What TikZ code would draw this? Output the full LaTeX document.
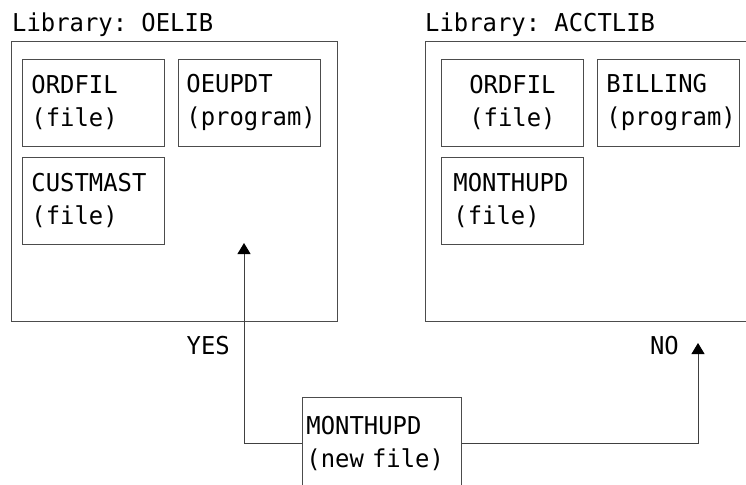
\documentclass[tikz,border=0pt]{standalone}
\usepackage{fontspec}
\setmonofont[FakeStretch=0.97]{DejaVu Sans Mono}
\usetikzlibrary{arrows.meta}

\begin{document}
\begin{tikzpicture}[x=1pt, y=-1pt, font=\fontsize{24.6pt}{33pt}\selectfont\ttfamily, lib/.style={rectangle, draw=black!70, line width=0.9pt, anchor=north west, minimum width=#1, minimum height=280pt}, obj/.style={rectangle, draw=black!70, line width=0.9pt, anchor=north west, align=left, inner xsep=9pt, text width=124pt, minimum height=87pt}, ttl/.style={anchor=base west, inner sep=0pt}, ans/.style={anchor=base east, inner sep=0pt}, edge/.style={draw=black!75, line width=0.9pt, -{Triangle[length=11pt, width=13pt, black]}}]
	\clip (0,0) rectangle (746,484);
	% libraries
	\node[lib=326pt] (oelib) at (11,41) {}; %
	\node[lib=340pt] (acctlib) at (425,41) {}; %
	\node[ttl] (ttlOE) at (12,32) {Library: OELIB}; %
	\node[ttl] (ttlAC) at (425,32) {Library: ACCTLIB}; %

	% nodes
	\node[obj] (ordOE) at (22,59) {ORDFIL\\(file)}; %
	\node[obj, inner xsep=8pt, text width=126pt] (updOE) at (178,59) {OEUPDT\\(program)}; %
	\node[obj] (custOE) at (22,157) {CUSTMAST\\(file)}; %
	\node[obj, align=center] (ordAC) at (441,59) {ORDFIL\\(file)}; %
	\node[obj] (billAC) at (597,59) {BILLING\\(program)}; %
	\node[obj, inner xsep=12pt, text width=118pt] (monAC) at (441,157) {MONTHUPD\\(file)}; %
	\node[obj, inner xsep=4pt, text width=151pt, minimum height=92pt] (newfile) at (302,397) {MONTHUPD\\(new file)}; %

	% answers
	\coordinate (tipOE) at (244,243); %
	\coordinate (tipAC) at (698,343); %
	\node[ans] (yes) at (230,354) {YES}; %
	\node[ans] (no) at (679,354) {NO}; %

	% edges
	\draw [edge] (newfile.west) -| (tipOE);
	\draw [edge] (newfile.east) -| (tipAC);
\end{tikzpicture}
\end{document}
